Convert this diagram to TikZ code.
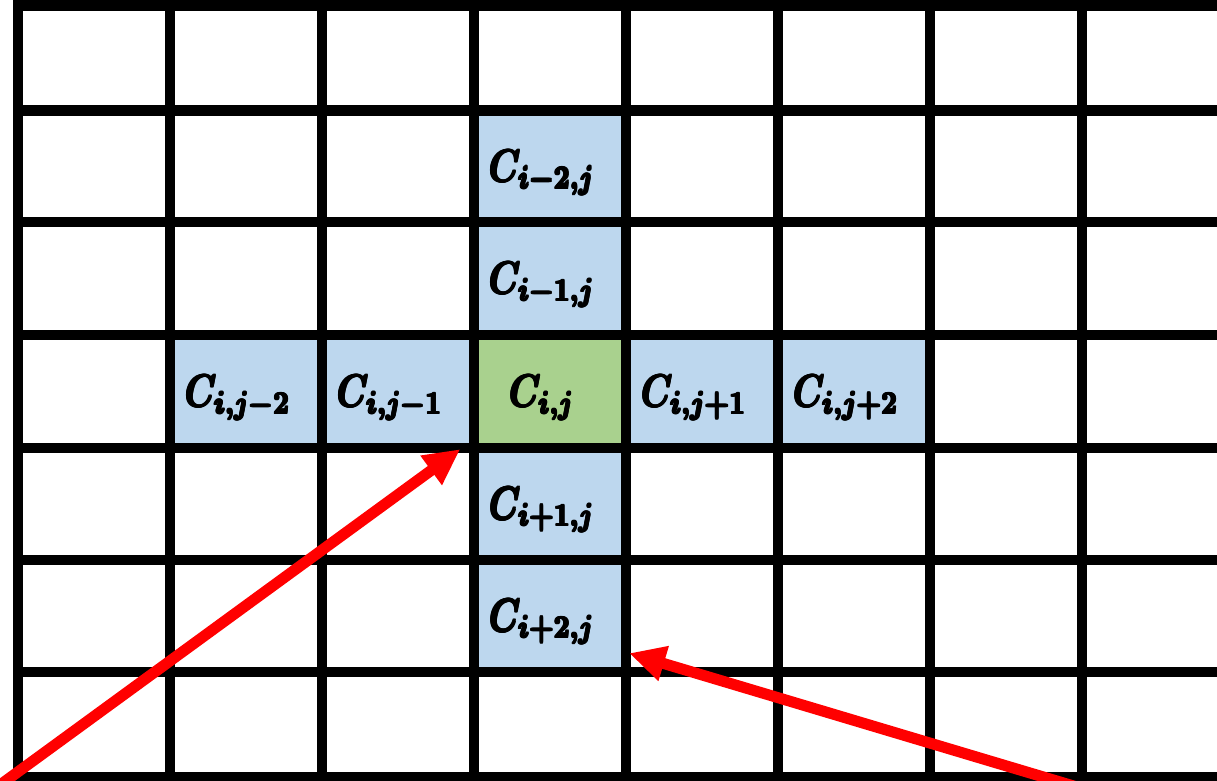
\documentclass[tikz,border=0pt]{standalone}
\usetikzlibrary{arrows.meta}
\definecolor{cellblue}{HTML}{BDD7EE}
\definecolor{cellgreen}{HTML}{A9D18E}
\newcommand{\onecopy}[1]{\rlap{\boldmath$#1$}}
\newcommand{\fatmath}[1]{%
  \onecopy{#1}\raisebox{0.25pt}{\onecopy{#1}}\kern0.18pt
  \onecopy{#1}\raisebox{0.25pt}{\onecopy{#1}}\kern0.18pt
  \onecopy{#1}\raisebox{0.25pt}{\onecopy{#1}}\kern0.18pt
  \raisebox{0.25pt}{\onecopy{#1}}{\boldmath$#1$}}
\newcommand{\celllbl}[1]{\raisebox{-16pt}[0pt][0pt]{\scalebox{3.5}[4.6]{\fatmath{#1}}}\kern16pt}
\tikzset{
  cellbox/.style={rectangle, draw=none, inner sep=0pt, minimum width=152pt,
    minimum height=112pt},
  bluecell/.style={cellbox, fill=cellblue},
  greencell/.style={cellbox, fill=cellgreen},
  gridline/.style={line width=10.5pt, black},
  redarrow/.style={line width=11pt, red, -{Triangle[length=36pt,width=34pt]}}
}
\begin{document}
\begin{tikzpicture}[x=1pt,y=-1pt]
\useasboundingbox (0,0) rectangle (1217,781);
% cells
\node[bluecell] (cU2) at (550,166.25) {\celllbl{C_{i-2,j}}};
\node[bluecell] (cU1) at (550,278.5) {\celllbl{C_{i-1,j}}};
\node[bluecell] (cL2) at (246,391.5) {\celllbl{C_{i,j-2}}};
\node[bluecell] (cL1) at (398,391.5) {\celllbl{C_{i,j-1}}};
\node[greencell] (cC) at (550,391.5) {\celllbl{C_{i,j}}};
\node[bluecell] (cR1) at (702,391.5) {\celllbl{C_{i,j+1}}};
\node[bluecell] (cR2) at (854,391.5) {\celllbl{C_{i,j+2}}};
\node[bluecell] (cD1) at (550,504) {\celllbl{C_{i+1,j}}};
\node[bluecell] (cD2) at (550,616) {\celllbl{C_{i+2,j}}};
% grid
\foreach \x in {18,170,322,474,626,778,930,1082}
  \draw[gridline] (\x,-5) -- (\x,790);
\foreach \y in {5.5,110.5,222,335,448,560,672,777}
  \draw[gridline] (13,\y) -- (1230,\y);
% arrows
\coordinate (t1) at (0,785);
\coordinate (t2) at (1087,790);
\draw[redarrow] (t1) -- ([xshift=-14pt,yshift=-1.5pt]cL1.south east);
\draw[redarrow] (t2) -- ([xshift=3pt,yshift=19pt]cD2.south east);
\end{tikzpicture}
\end{document}
